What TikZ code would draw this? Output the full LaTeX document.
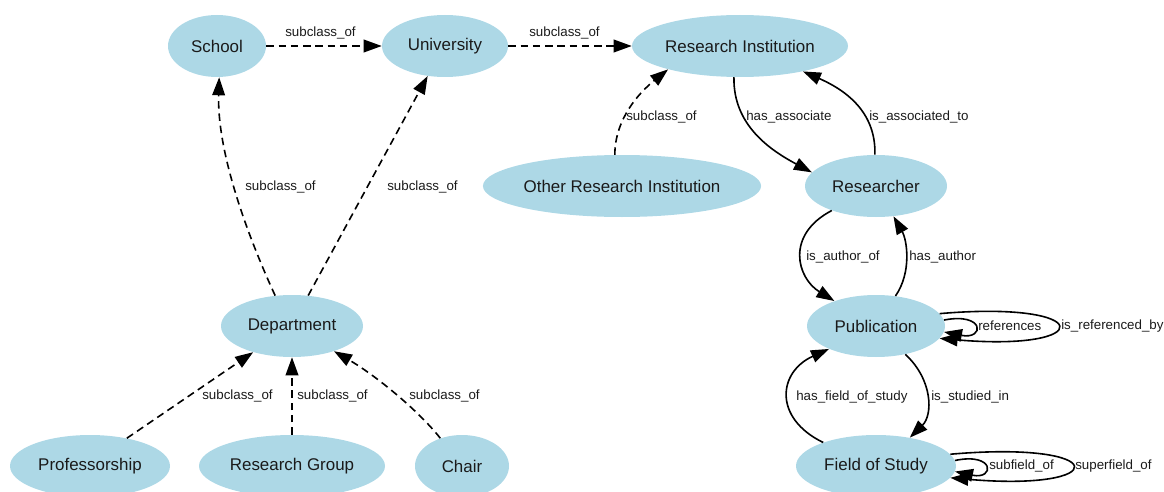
\documentclass[tikz,border=0pt]{standalone}
\usepackage{fontspec}
\setmainfont{Liberation Sans}
\usetikzlibrary{arrows.meta,shapes.geometric}
\definecolor{nodeblue}{HTML}{ADD8E6}
\definecolor{ink}{HTML}{1A1A1A}
\begin{document}
\begin{tikzpicture}[x=0.75pt,y=-0.75pt,
  ent/.style 2 args={ellipse, fill=nodeblue, inner sep=0pt, text=ink, minimum width=#1*1.5pt, minimum height=#2*1.5pt, font=\fontsize{12.7}{15}\selectfont},
  lbl/.style={anchor=west, inner sep=0pt, text=ink, font=\fontsize{10}{12}\selectfont},
  rel/.style={line width=1.2pt, -{Triangle[length=13.5pt,width=9.5pt]}},
  sub/.style={rel, dash pattern=on 5.6pt off 3.6pt}]
\useasboundingbox (0,0) rectangle (1164,492);
% nodes
\node[ent={49}{31}] (school) at (217,46) {School};
\node[ent={63}{31}] (univ) at (445,46) {University};
\node[ent={108}{31}] (ri) at (740,46) {Research Institution};
\node[ent={137}{31}] (ori) at (622,186) {Other Research Institution};
\node[ent={71}{31}] (res) at (876,186) {Researcher};
\node[ent={71}{31}] (dep) at (292,326) {Department};
\node[ent={69}{31}] (pub) at (876,326) {Publication};
\node[ent={80}{31}] (prof) at (90,466) {Professorship};
\node[ent={93}{31}] (rg) at (292,466) {Research Group};
\node[ent={47}{31}] (chair) at (462,466) {Chair};
\node[ent={80}{31}] (fos) at (876,466) {Field of Study};
% edges
\draw[sub] (school) -- (univ);
\draw[sub] (univ) -- (ri);
\draw[sub] (dep.119) .. controls (245,230) and (217,150) .. (school.-86);
\draw[sub] (dep.62) -- (univ.-120);
\draw[sub] (ori.103) .. controls (615,118) and (640,92) .. (ri.-162);
\draw[rel] (ri.-101) .. controls (733,125) and (770,150) .. (res.168);
\draw[rel] (res.92) .. controls (876,115) and (850,92) .. (ri.-22);
\draw[rel] (res.-151) .. controls (785,235) and (797,278) .. (pub.149);
\draw[rel] (pub.57) .. controls (912,272) and (907,240) .. (res.-60);
\draw[rel] (pub.-44) .. controls (933,380) and (933,415) .. (fos.40);
\draw[rel] (fos.156) .. controls (773,418) and (778,372) .. (pub.-154);
\draw[sub] (prof.37) -- (dep.-146);
\draw[sub] (rg) -- (dep);
\draw[sub] (chair.128) .. controls (418,410) and (375,375) .. (dep.-31);
% self loops
\draw[rel] (pub.5) .. controls (985,312) and (985,340) .. (pub.-5);
\draw[rel] (pub.11) .. controls (1097,300) and (1097,352) .. (pub.-11);
\draw[rel] (fos.4) .. controls (995,452) and (995,480) .. (fos.-4);
\draw[rel] (fos.9) .. controls (1113,440) and (1113,492) .. (fos.-9);
% labels
\node[lbl] (l1) at (285,33) {subclass\_of};
\node[lbl] (l2) at (529,33) {subclass\_of};
\node[lbl] (l3) at (245,187) {subclass\_of};
\node[lbl] (l4) at (387,187) {subclass\_of};
\node[lbl] (l5) at (626,117) {subclass\_of};
\node[lbl] (l6) at (746,117) {has\_associate};
\node[lbl] (l7) at (869,117) {is\_associated\_to};
\node[lbl] (l8) at (806,257) {is\_author\_of};
\node[lbl] (l9) at (909,257) {has\_author};
\node[lbl] (l10) at (796,397) {has\_field\_of\_study};
\node[lbl] (l11) at (931,397) {is\_studied\_in};
\node[lbl] (l12) at (202,396) {subclass\_of};
\node[lbl] (l13) at (297,396) {subclass\_of};
\node[lbl] (l14) at (409,396) {subclass\_of};
\node[lbl] (l15) at (978,326) {references};
\node[lbl] (l16) at (1061,326) {is\_referenced\_by};
\node[lbl] (l17) at (989,466) {subfield\_of};
\node[lbl] (l18) at (1075,466) {superfield\_of};
\end{tikzpicture}
\end{document}
